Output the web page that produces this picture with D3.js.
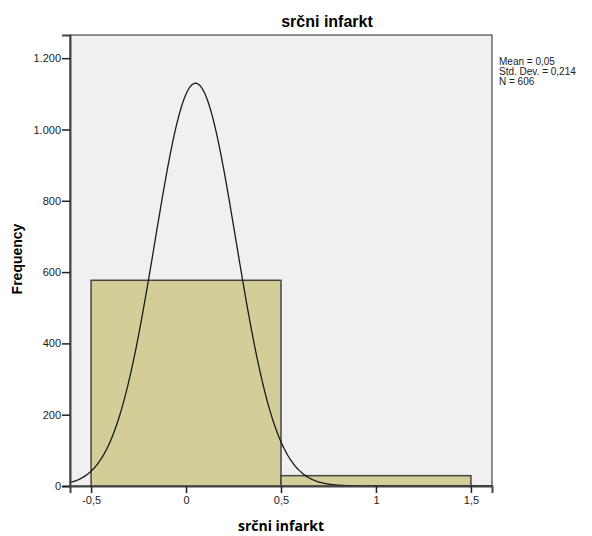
<!DOCTYPE html>
<html>
<head>
<meta charset="utf-8">
<script src="https://cdn.jsdelivr.net/npm/d3@7"></script>
<style>
  body { margin: 0; background: #fff; }
  text { font-family: "Liberation Sans", Arial, sans-serif; }
</style>
</head>
<body>
<div id="chart"></div>
<script>
// histogram: srčni infarkt (0/1)
var binStarts = [-0.5, 0.5];
var binEnds = [0.5, 1.5];
var counts = [577, 29];
var xTicks = [-0.5, 0, 0.5, 1, 1.5];
var yTicks = [0, 200, 400, 600, 800, 1000, 1200];
var statLines = ["Mean = 0,05", "Std. Dev. = 0,214", "N = 606"];
var mean = 0.05, sd = 0.214, n = 606;

var width = 592, height = 536;
var margin = {left: 70, right: 100, top: 35, bottom: 50};
var plotW = width - margin.left - margin.right;   // 422
var plotH = height - margin.top - margin.bottom;  // 451

var x = d3.scaleLinear().domain([-0.611, 1.611]).range([margin.left, margin.left + plotW]);
var y = d3.scaleLinear().domain([0, 1265]).range([margin.top + plotH, margin.top]);

var svg = d3.select("#chart").append("svg")
    .attr("width", width)
    .attr("height", height);

// plot background
svg.append("rect")
    .attr("x", margin.left).attr("y", margin.top)
    .attr("width", plotW).attr("height", plotH)
    .style("fill", "#eff0ef")
    .style("stroke", "#222")
    .style("stroke-width", "1px");

svg.append("clipPath").attr("id", "clip")
  .append("rect")
    .attr("x", margin.left).attr("y", margin.top)
    .attr("width", plotW).attr("height", plotH);

// bars
svg.selectAll("rect.bar")
    .data(counts)
    .enter()
    .append("rect")
    .attr("class", "bar")
    .attr("x", function(d, i) { return x(binStarts[i]); })
    .attr("y", function(d) { return y(d); })
    .attr("width", function(d, i) { return x(binEnds[i]) - x(binStarts[i]); })
    .attr("height", function(d) { return y(0) - y(d); })
    .style("fill", "#d3ce97")
    .style("stroke", "#444")
    .style("stroke-width", "1.5px");

// normal curve from mean / sd / N (bin width 1)
var curveX = d3.range(-0.611, 1.611, 0.004);
var dens = function(v) {
  return n * 1 * Math.exp(-0.5 * Math.pow((v - mean) / sd, 2)) / (sd * Math.sqrt(2 * Math.PI));
};
var line = d3.line()
    .x(function(d) { return x(d); })
    .y(function(d) { return y(dens(d)); })
    .curve(d3.curveMonotoneX);
svg.append("path")
    .datum(curveX)
    .attr("d", line)
    .attr("clip-path", "url(#clip)")
    .style("fill", "none")
    .style("stroke", "#1a1a1a")
    .style("stroke-width", "1.3px");

// axes
var yAxis = d3.axisLeft(y).tickValues(yTicks).tickSize(8).tickPadding(1)
    .tickFormat(function(d) { return d3.format(",")(d).replace(/,/g, "."); });
var gy = svg.append("g")
    .attr("transform", "translate(" + margin.left + ",0)")
    .call(yAxis);

var xAxis = d3.axisBottom(x).tickValues(xTicks).tickSize(7).tickPadding(3)
    .tickFormat(function(d) { return String(d).replace(".", ","); });
var gx = svg.append("g")
    .attr("transform", "translate(0," + (margin.top + plotH) + ")")
    .call(xAxis);

[gx, gy].forEach(function(g) {
  g.select(".domain").style("stroke", "#444").style("stroke-width", "2px");
  g.selectAll(".tick line").style("stroke", "#222").style("stroke-width", "1.5px");
  g.selectAll(".tick text").style("font-size", "11px").style("fill", "#222")
    .style("font-family", "'Liberation Sans', Arial, sans-serif");
});

// titles
svg.append("text")
    .attr("x", 327).attr("y", 27)
    .attr("text-anchor", "middle")
    .style("font-size", "16px").style("font-weight", "bold")
    .text("srčni infarkt");

svg.append("text")
    .attr("x", 281).attr("y", 531)
    .attr("text-anchor", "middle")
    .style("font-family", "'Open Sans', sans-serif")
    .style("font-size", "14px").style("font-weight", "bold")
    .text("srčni infarkt");

svg.append("text")
    .attr("transform", "translate(22,259) rotate(-90)")
    .attr("text-anchor", "middle")
    .style("font-size", "14px").style("font-weight", "bold")
    .text("Frequency");

// stats box
svg.selectAll("text.stat")
    .data(statLines)
    .enter()
    .append("text")
    .attr("class", "stat")
    .attr("x", 499)
    .attr("y", function(d, i) { return 65 + i * 10; })
    .style("font-size", "10px")
    .style("fill", "#222")
    .text(function(d) { return d; });
</script>
</body>
</html>
